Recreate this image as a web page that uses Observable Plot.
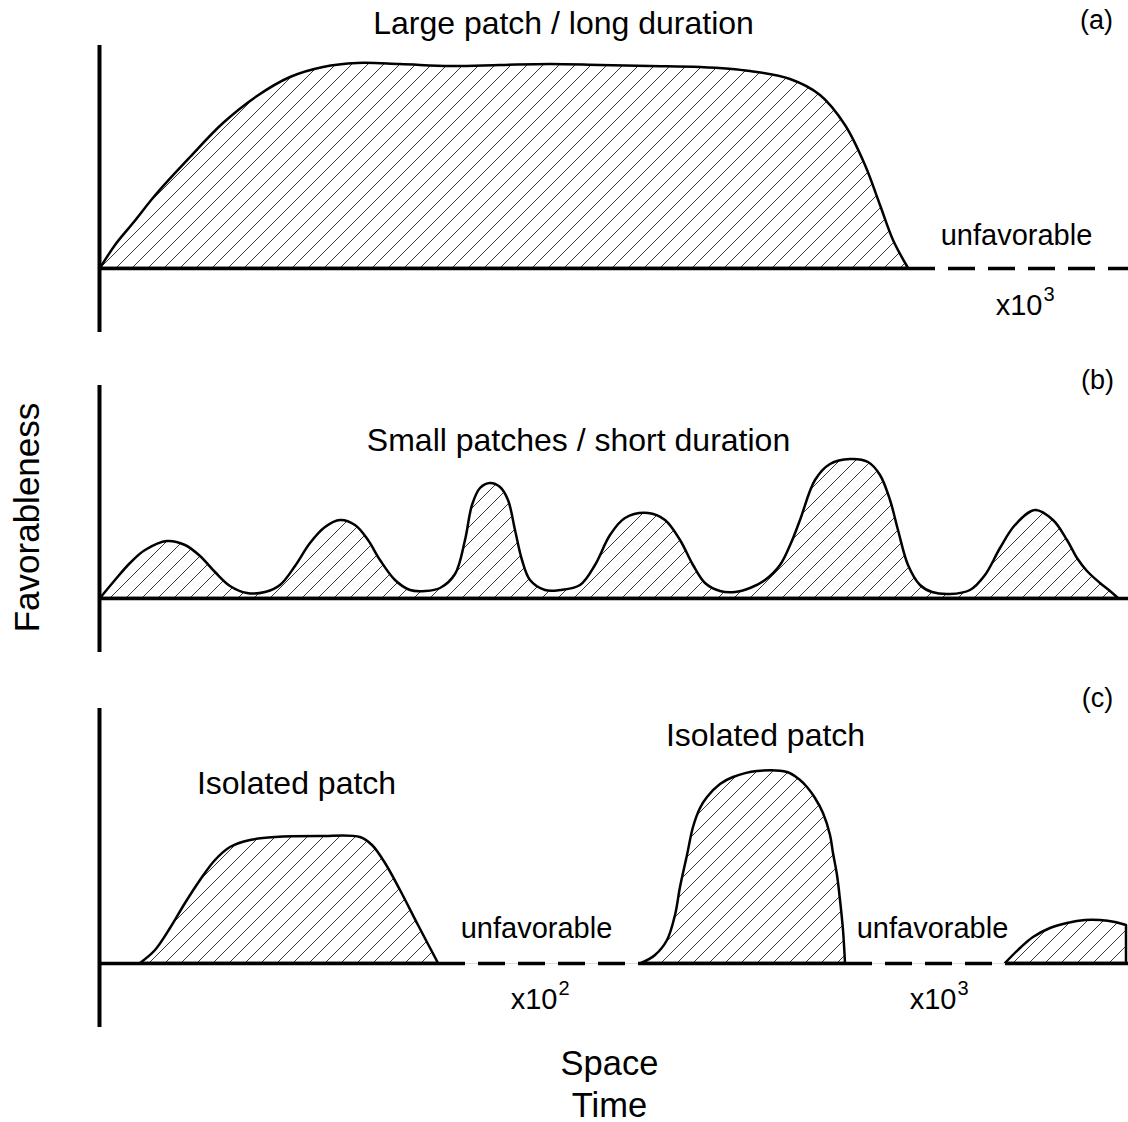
<!DOCTYPE html>
<html><head><meta charset="utf-8">
<script src="https://cdn.jsdelivr.net/npm/d3@7"></script>
<script src="https://cdn.jsdelivr.net/npm/@observablehq/plot@0.6"></script>
<style>
body{margin:0;background:#fff}
#chart{position:relative;width:1128px;height:1122px;font-family:"Liberation Sans",Arial,sans-serif}
#chart svg{position:absolute;left:0;overflow:visible;background:transparent}
</style></head><body><div id="chart"></div>
<script>
// ---------- DATA (space position, favorableness height above baseline) ----------
// Panel (a): large patch / long duration
const aSpace = [1,16,34,58,91,124,158,191,224,258,301,351,401,451,501,551,601,651,691,721,746,766,781,794,809];
const aFav   = [0,23,45,75,111,145,172,191,201,205,204,202,203,204,203,202,201,197,189,173,143,103,63,28,0];
const aFavorableRanges   = [[0, 809]];
const aUnfavorableRanges = [[809, 1029]];

// Panel (b): small patches / short duration
const bSpace = [1,16,31,46,68,86,101,116,131,148,166,181,196,211,226,241,256,269,281,296,311,326,341,356,366,373,381,391,401,409,416,423,431,446,461,481,496,511,526,549,566,581,594,606,621,636,651,666,681,692,701,716,731,751,769,781,791,799,809,821,833,851,871,886,901,916,936,954,968,978,988,1001,1011,1019];
const bFav   = [0,18,35,48,57,53,42,26,12,5,6,13,32,55,71,78,73,58,38,18,8,7,10,24,58,93,110,115,111,98,68,38,18,8,8,13,33,63,80,85,78,58,33,15,7,6,10,18,33,55,78,118,134,139,136,123,98,68,33,13,6,4,8,23,50,73,88,78,58,40,27,15,7,0];
const bFavorableRanges = [[0, 1029]];

// Panel (c): isolated patches
const cPatch = [1,1,1,1,1,1,1,1,1,1,1,1,1,1,1,1, 2,2,2,2,2,2,2,2,2,2,2,2,2,2,2,2,2,2,2,2,2,2,2, 3,3,3,3,3,3,3,3,3];
const cSpace = [41,56,71,86,101,116,131,151,176,221,261,273,286,301,319,339,
                542,556,568,576,581,588,594,601,608,621,634,658,688,701,708,716,724,731,734,738,741,744,746,
                906,921,934,951,968,986,1001,1016,1027];
const cFav   = [0,13,35,60,83,103,116,123,126,127,126,118,100,73,38,0,
                0,8,23,48,76,108,136,155,166,179,186,192,191,183,176,165,150,128,110,88,63,33,0,
                0,15,26,35,40,43,43,41,38];
const cFavorableRanges   = [[0, 339], [542, 746], [906, 1029]];
const cUnfavorableRanges = [[339, 542], [746, 906]];

// Labels
const panelLetters = ["(a)", "(b)", "(c)"];
const aTitle = "Large patch / long duration";
const bTitle = "Small patches / short duration";
const cTitles = ["Isolated patch", "Isolated patch"];
const unfavLabel = "unfavorable";
const scaleBase = "x10";
const aScaleExp = "3";
const cScaleExps = ["2", "3"];
const yLabel = "Favorableness";
const xLabels = ["Space", "Time"];

// ---------- DRAWING ----------
const W = 1128;
const FONT = '"Liberation Sans", Arial, sans-serif';
const chart = document.getElementById("chart");

function hatchDefs(svg, id) {
  const defs = d3.select(svg).insert("defs", ":first-child");
  const p = defs.append("pattern").attr("id", id).attr("patternUnits", "userSpaceOnUse")
    .attr("width", 16).attr("height", 16);
  p.append("rect").attr("width", 16).attr("height", 16).attr("fill", "white");
  p.append("path").attr("d", "M0,16 L16,0 M-4,4 L4,-4 M12,20 L20,12")
    .attr("stroke", "#222").attr("stroke-width", 0.9).attr("fill", "none");
}

function panel({top, height, yDomain, axisExtent, marks, id}) {
  const svg = Plot.plot({
    width: W, height,
    marginLeft: 99, marginRight: 0, marginTop: 0, marginBottom: 0,
    x: {domain: [0, 1029], axis: null},
    y: {domain: yDomain, axis: null},
    style: {fontFamily: FONT, background: "transparent", overflow: "visible"},
    marks: [
      ...marks,
      Plot.ruleX([0], {y1: axisExtent[0], y2: axisExtent[1], stroke: "black", strokeWidth: 4})
    ]
  });
  hatchDefs(svg, id);
  svg.style.top = top + "px";
  chart.appendChild(svg);
}

const rangeRows = (ranges) => ranges.map(([a, b]) => ({a, b}));
const solid = (ranges) => Plot.ruleY(rangeRows(ranges), {y: () => 0, x1: "a", x2: "b", stroke: "black", strokeWidth: 3.5});
const dashed = (ranges, grey) => [
  ...(grey ? [Plot.ruleY(rangeRows(ranges), {y: () => 0, x1: "a", x2: "b", stroke: "#ddd", strokeWidth: 1})] : []),
  Plot.ruleY(rangeRows(ranges), {y: () => 0, x1: "a", x2: "b", stroke: "black", strokeWidth: 3.5, strokeDasharray: "27,13"})
];
// "x10" followed by a raised exponent
const scaleLabel = (rows) => [
  Plot.text(rows, {x: "x", y: "y", text: () => scaleBase, textAnchor: "end", fontSize: 29, fill: "black"}),
  Plot.text(rows, {x: "x", y: "y", text: "e", textAnchor: "start", dx: 1, dy: -11, fontSize: 20, fill: "black"})
];

// Panel (a)
{
  const data = aSpace.map((x, i) => ({x, y: aFav[i]}));
  panel({
    id: "hatchA", top: 0, height: 340, yDomain: [-72, 268], axisExtent: [-64, 223],
    marks: [
      Plot.areaY(data, {x: "x", y: "y", fill: "url(#hatchA)", stroke: "black", strokeWidth: 2.5, curve: "catmull-rom"}),
      solid(aFavorableRanges),
      ...dashed(aUnfavorableRanges, false),
      Plot.text([aTitle], {x: () => 464, y: () => 245, text: d => d, fontSize: 32, fill: "black"}),
      Plot.text([panelLetters[0]], {x: () => 997, y: () => 248, text: d => d, fontSize: 27, fill: "black"}),
      Plot.text([unfavLabel], {x: () => 917, y: () => 33, text: d => d, fontSize: 29, fill: "black"}),
      ...scaleLabel([{x: 943, y: -37, e: aScaleExp}])
    ]
  });
}

// Panel (b)
{
  const data = bSpace.map((x, i) => ({x, y: bFav[i]}));
  panel({
    id: "hatchB", top: 340, height: 340, yDomain: [-82, 258], axisExtent: [-54, 213],
    marks: [
      Plot.areaY(data, {x: "x", y: "y", fill: "url(#hatchB)", stroke: "black", strokeWidth: 2.5, curve: "catmull-rom"}),
      solid(bFavorableRanges),
      Plot.text([bTitle], {x: () => 479, y: () => 158, text: d => d, fontSize: 32, fill: "black"}),
      Plot.text([panelLetters[1]], {x: () => 998, y: () => 218, text: d => d, fontSize: 27, fill: "black"}),
      Plot.text([yLabel], {x: () => -72, y: () => 81, text: d => d, fontSize: 35, rotate: -90, fill: "black"})
    ]
  });
}

// Panel (c)
{
  const data = cSpace.map((x, i) => ({x, y: cFav[i], patch: cPatch[i]}));
  const titleRows = [{t: cTitles[0], x: 197, y: 180}, {t: cTitles[1], x: 666, y: 228}];
  const unfavRows = [{x: 437, y: 35}, {x: 833, y: 35}];
  const scaleRows = [{e: cScaleExps[0], x: 458, y: -36}, {e: cScaleExps[1], x: 857, y: -36}];
  panel({
    id: "hatchC", top: 680, height: 442, yDomain: [-159, 283], axisExtent: [-64, 255],
    marks: [
      Plot.areaY(data, {x: "x", y: "y", z: "patch", fill: "url(#hatchC)", stroke: "black", strokeWidth: 2.5, curve: "catmull-rom"}),
      solid(cFavorableRanges),
      ...dashed(cUnfavorableRanges, true),
      Plot.text(titleRows, {x: "x", y: "y", text: "t", fontSize: 32, fill: "black"}),
      Plot.text(unfavRows, {x: "x", y: "y", text: () => unfavLabel, fontSize: 29, fill: "black"}),
      ...scaleLabel(scaleRows),
      Plot.text([panelLetters[2]], {x: () => 998, y: () => 265, text: d => d, fontSize: 27, fill: "black"}),
      Plot.text(xLabels.map((t, i) => ({t, i})), {x: () => 510, y: d => d.i === 0 ? -100 : -142, text: "t", fontSize: 34.5, fill: "black"})
    ]
  });
}
</script></body></html>
